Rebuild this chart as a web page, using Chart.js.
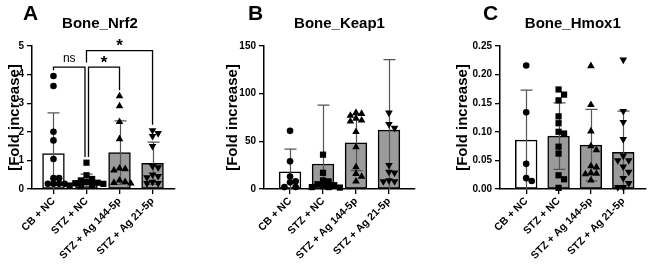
<!DOCTYPE html>
<html><head><meta charset="utf-8">
<script src="https://cdn.jsdelivr.net/npm/chart.js@4.4.1/dist/chart.umd.min.js"></script>
<style>
html,body{margin:0;padding:0;background:#fff;}
#wrap{position:relative;width:650px;height:264px;overflow:hidden;}
canvas{position:absolute;top:0;}
</style></head><body>
<div id="wrap">
<canvas id="cA" width="217" height="264" style="left:0px"></canvas>
<canvas id="cB" width="217" height="264" style="left:217px"></canvas>
<canvas id="cC" width="216" height="264" style="left:434px"></canvas>
</div>
<script>
// ---------------- DATA ----------------
const categories = ['CB + NC', 'STZ + NC', 'STZ + Ag 144-5p', 'STZ + Ag 21-5p'];

// Panel A: Bone_Nrf2
const nrf2Mean = [1.24, 0.30, 1.27, 0.90];
const nrf2Sd   = [1.42, 0.22, 1.11, 0.74];
const nrf2CB   = [3.95, 3.6, 2.0, 1.7, 1.05, 0.38, 0.38, 0.18, 0.18, 0.18, 0.18];
const nrf2STZ  = [0.92, 0.48, 0.35, 0.3, 0.25, 0.22, 0.2, 0.18, 0.15, 0.12, 0.1];
const nrf2Ag144 = [3.25, 2.9, 2.35, 1.75, 0.72, 0.7, 0.65, 0.3, 0.25, 0.22, 0.2];
const nrf2Ag21 = [2.05, 1.95, 1.85, 1.5, 0.8, 0.75, 0.5, 0.45, 0.4, 0.25, 0.2, 0.2];
const nrf2Ticks = [0, 1, 2, 3, 4, 5];
const sigPairs  = [[0, 1], [1, 2], [1, 3]];
const sigLabels = ['ns', '*', '*'];
const sigLevels = [4.26, 4.26, 4.84];

// Panel B: Bone_Keap1
const keap1Mean = [18.1, 26.2, 48.5, 61.8];
const keap1Sd   = [23.8, 61.8, 29.3, 74.0];
const keap1CB   = [61, 29, 13, 8, 7, 2, 2];
const keap1STZ  = [36, 17, 9, 8, 5, 4, 3, 2, 2, 1.5];
const keap1Ag144 = [80, 79, 77, 74, 72, 71, 60, 44, 23, 16, 13, 8];
const keap1Ag21 = [80, 68, 64, 25, 18, 17, 9, 8, 8];
const keap1Ticks = [0, 50, 100, 150];

// Panel C: Bone_Hmox1
const hmox1Mean = [0.0855, 0.0924, 0.0767, 0.064];
const hmox1Sd   = [0.0872, 0.058, 0.0625, 0.072];
const hmox1CB   = [0.216, 0.134, 0.044, 0.019, 0.014];
const hmox1STZ  = [0.174, 0.165, 0.155, 0.127, 0.115, 0.1, 0.097, 0.074, 0.062, 0.024, 0.017, 0.002];
const hmox1Ag144 = [0.215, 0.147, 0.101, 0.075, 0.068, 0.04, 0.038, 0.028, 0.027, 0.026, 0.015];
const hmox1Ag21 = [0.226, 0.136, 0.117, 0.087, 0.058, 0.05, 0.05, 0.039, 0.03, 0.019, 0.01, 0.003, 0.003];
const hmox1Ticks = [0, 0.05, 0.10, 0.15, 0.20, 0.25];

// ---------------- STYLE / HELPERS ----------------
const FONT = "'Liberation Sans', Arial, Helvetica, sans-serif";
const markerStyles = [
  {pointStyle: 'circle', rotation: 0, radius: 3.3},
  {pointStyle: 'rect', rotation: 0, radius: 4.4},
  {pointStyle: 'triangle', rotation: 0, radius: 4.4},
  {pointStyle: 'triangle', rotation: 180, radius: 4.4}
];

// simple column-scatter (beeswarm) offsets computed from the values
function swarm(values, yMax) {
  const DX = 0.17, DY = 0.04;
  const order = values.map((v, i) => i).sort((a, b) => values[b] - values[a]);
  const placed = [], xs = new Array(values.length);
  for (const i of order) {
    const yn = values[i] / yMax;
    for (let k = 0; k < 50; k++) {
      const off = k === 0 ? 0 : (k % 2 ? 1 : -1) * Math.ceil(k / 2) * DX;
      if (placed.every(p => Math.hypot((p.x - off) / DX, (p.y - yn) / DY) >= 0.98)) {
        xs[i] = off; placed.push({x: off, y: yn}); break;
      }
    }
  }
  return xs;
}

const decor = {
  id: 'decor',
  afterDatasetDraw(chart, args) {
    if (args.meta.type !== 'bar') return;
    const cfg = chart.options.plugins.decor;
    const xs = chart.scales.x, ys = chart.scales.y, ctx = chart.ctx;
    ctx.save();
    ctx.strokeStyle = '#555'; ctx.lineWidth = 1.2;
    const cap = 6;
    cfg.means.forEach((m, i) => {
      const sd = cfg.sds[i];
      const px = Math.round(xs.getPixelForValue(i)) + 0.5;
      const top = ys.getPixelForValue(m + sd);
      const lowV = m - sd;
      const bot = ys.getPixelForValue(Math.max(0, lowV));
      ctx.beginPath();
      ctx.moveTo(px, top); ctx.lineTo(px, bot);
      ctx.moveTo(px - cap, top); ctx.lineTo(px + cap, top);
      if (lowV > 0) { ctx.moveTo(px - cap, bot); ctx.lineTo(px + cap, bot); }
      ctx.stroke();
    });
    ctx.restore();
  },
  afterDraw(chart) {
    const cfg = chart.options.plugins.decor;
    const ctx = chart.ctx, area = chart.chartArea;
    const xs = chart.scales.x, ys = chart.scales.y;
    ctx.save();
    ctx.fillStyle = '#000';
    ctx.textBaseline = 'alphabetic';
    ctx.font = 'bold 21px ' + FONT;
    ctx.textAlign = 'left';
    ctx.fillText(cfg.letter, area.left - cfg.letterDx, 20);
    ctx.font = 'bold 15px ' + FONT;
    ctx.textAlign = 'center';
    ctx.fillText(cfg.title, (area.left + area.right) / 2 + cfg.titleDx, 27.5);
    if (cfg.pairs) {
      ctx.strokeStyle = '#000'; ctx.lineWidth = 1.3;
      cfg.pairs.forEach((pr, b) => {
        const lvl = cfg.levels[b];
        const ly = ys.getPixelForValue(lvl);
        const ends = pr.map((g, side) => {
          const lower = cfg.pairs.map((q, j) => j !== b && q.includes(g) && cfg.levels[j] < lvl ? cfg.levels[j] : null).filter(v => v !== null);
          const legEnd = lower.length ? Math.max(...lower) + 0.16 : Math.max(...cfg.groups[g]) + 0.2;
          const shared = cfg.pairs.some((q, j) => j !== b && q.includes(g) && cfg.levels[j] === lvl);
          const shift = shared ? (side === 0 ? 2 : -1.5) : 0;
          return {x: xs.getPixelForValue(g) + shift, y: ys.getPixelForValue(legEnd)};
        });
        ctx.beginPath();
        ctx.moveTo(ends[0].x, ends[0].y); ctx.lineTo(ends[0].x, ly);
        ctx.lineTo(ends[1].x, ly); ctx.lineTo(ends[1].x, ends[1].y);
        ctx.stroke();
        const cx = (ends[0].x + ends[1].x) / 2;
        if (cfg.labels[b] === 'ns') {
          ctx.font = '12px ' + FONT;
          ctx.fillText('ns', cx, ly - 5);
        } else {
          ctx.font = 'bold 17px ' + FONT;
          ctx.fillText(cfg.labels[b], cx, ly + 0.5);
        }
      });
    }
    ctx.restore();
  }
};

function makeChart(id, p) {
  const yMax = p.ticks[p.ticks.length - 1];
  const canvas = document.getElementById(id);
  const areaW = canvas.width - p.padL - p.yWidth - p.padR;
  const barW = 0.66 * areaW / (p.xMax - p.xMin);
  const scatterSets = p.groups.map((vals, g) => {
    const jit = swarm(vals, yMax);
    const ms = markerStyles[g];
    return {
      type: 'scatter',
      data: vals.map((v, k) => ({x: g + jit[k], y: v})),
      pointStyle: ms.pointStyle, rotation: ms.rotation, pointRadius: ms.radius,
      backgroundColor: '#000', borderColor: '#000', borderWidth: 0,
      order: 1, clip: false
    };
  });
  return new Chart(canvas, {
    type: 'bar',
    data: {
      datasets: [{
        type: 'bar',
        data: p.means.map((m, i) => ({x: i, y: m})),
        backgroundColor: ['#ffffff', '#9b9b9b', '#9b9b9b', '#9b9b9b'],
        borderColor: '#000', borderWidth: 1.5, borderSkipped: false,
        barThickness: barW, order: 2
      }, ...scatterSets]
    },
    options: {
      responsive: false, animation: false, devicePixelRatio: 1, events: [],
      layout: {padding: {left: p.padL, right: p.padR, top: 46, bottom: 0}},
      plugins: {
        legend: {display: false}, tooltip: {enabled: false}, title: {display: false},
        decor: {letter: p.letter, title: p.title, letterDx: p.letterDx, titleDx: p.titleDx,
                means: p.means, sds: p.sds, groups: p.groups,
                pairs: p.pairs, labels: p.labels, levels: p.levels}
      },
      scales: {
        x: {
          type: 'linear', min: p.xMin, max: p.xMax, offset: false,
          afterBuildTicks: s => { s.ticks = categories.map((c, i) => ({value: i})); },
          afterFit: s => { s.height = 75; s.paddingLeft = 0; s.paddingRight = 0; },
          ticks: {
            callback: v => categories[v], minRotation: 45, maxRotation: 45, autoSkip: false,
            font: {family: FONT, size: 10.5, weight: 'bold'}, color: '#000', padding: 1
          },
          grid: {display: true, offset: false, drawOnChartArea: false, drawTicks: true, tickLength: 5, color: '#000', lineWidth: 1.3},
          border: {display: true, color: '#000', width: 1.5}
        },
        y: {
          min: 0, max: yMax,
          afterBuildTicks: s => { s.ticks = p.ticks.map(v => ({value: v})); },
          afterFit: s => { s.width = p.yWidth; s.paddingTop = 0; s.paddingBottom = 0; },
          ticks: {
            callback: v => p.fmt(v), font: {family: FONT, size: 10, weight: 'bold'}, color: '#000', padding: 3
          },
          grid: {display: true, drawOnChartArea: false, drawTicks: true, tickLength: 5, color: '#000', lineWidth: 1.3},
          border: {display: true, color: '#000', width: 1.5},
          title: {display: true, text: '[Fold increase]', color: '#000', padding: 0,
                  font: {family: FONT, size: 15, weight: 'bold'}}
        }
      }
    },
    plugins: [decor]
  });
}

makeChart('cA', {
  letter: 'A', title: 'Bone_Nrf2', letterDx: 9, titleDx: -3.5,
  means: nrf2Mean, sds: nrf2Sd, groups: [nrf2CB, nrf2STZ, nrf2Ag144, nrf2Ag21],
  ticks: nrf2Ticks, fmt: v => String(v),
  pairs: sigPairs, labels: sigLabels, levels: sigLevels,
  padL: 5.5, yWidth: 26.5, padR: 42, xMin: -0.65, xMax: 3.68
});
makeChart('cB', {
  letter: 'B', title: 'Bone_Keap1', letterDx: 16, titleDx: 0,
  means: keap1Mean, sds: keap1Sd, groups: [keap1CB, keap1STZ, keap1Ag144, keap1Ag21],
  ticks: keap1Ticks, fmt: v => String(v),
  padL: 7, yWidth: 40, padR: 19, xMin: -0.79, xMax: 3.79
});
makeChart('cC', {
  letter: 'C', title: 'Bone_Hmox1', letterDx: 17, titleDx: 0,
  means: hmox1Mean, sds: hmox1Sd, groups: [hmox1CB, hmox1STZ, hmox1Ag144, hmox1Ag21],
  ticks: hmox1Ticks, fmt: v => v.toFixed(2),
  padL: 20, yWidth: 46, padR: 2, xMin: -0.81, xMax: 3.69
});
</script>
</body></html>
